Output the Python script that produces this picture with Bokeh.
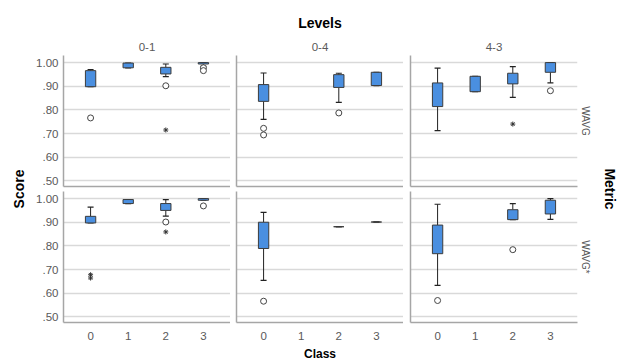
from math import pi
from bokeh.plotting import figure
from bokeh.layouts import row, column
from bokeh.models import (ColumnDataSource, FixedTicker, CustomJSTickFormatter, Range1d,
                          Title, Label, Whisker, TeeHead)
from bokeh.embed import file_html
from bokeh.resources import INLINE

# ---------------- data ----------------
levels = ["0-1", "0-4", "4-3"]
metrics = ["WAVG", "WAVG*"]
class_ticks = [0, 1, 2, 3]
score_ticks = [0.5, 0.6, 0.7, 0.8, 0.9, 1.0]

box_metric = ["WAVG", "WAVG", "WAVG", "WAVG", "WAVG", "WAVG", "WAVG", "WAVG", "WAVG", "WAVG", "WAVG",
              "WAVG*", "WAVG*", "WAVG*", "WAVG*", "WAVG*", "WAVG*", "WAVG*", "WAVG*", "WAVG*", "WAVG*"]
box_level = ["0-1", "0-1", "0-1", "0-1", "0-4", "0-4", "0-4", "4-3", "4-3", "4-3", "4-3",
             "0-1", "0-1", "0-1", "0-1", "0-4", "0-4", "0-4", "4-3", "4-3", "4-3"]
box_class = [0, 1, 2, 3, 0, 2, 3, 0, 1, 2, 3,
             0, 1, 2, 3, 0, 2, 3, 0, 2, 3]
whisker_low = [0.898, 0.978, 0.941, 0.984, 0.760, 0.832, 0.903, 0.712, 0.877, 0.853, 0.914,
               0.897, 0.979, 0.926, 0.993, 0.654, 0.881, 0.901, 0.633, 0.911, 0.912]
q1 = [0.898, 0.978, 0.952, 0.994, 0.836, 0.895, 0.903, 0.814, 0.877, 0.910, 0.959,
      0.897, 0.979, 0.950, 0.993, 0.789, 0.881, 0.901, 0.767, 0.911, 0.935]
median = [0.939, 0.987, 0.970, 0.997, 0.881, 0.927, 0.931, 0.889, 0.910, 0.948, 0.984,
          0.912, 0.987, 0.970, 0.997, 0.864, 0.881, 0.901, 0.833, 0.935, 0.959]
q3 = [0.966, 0.998, 0.980, 1.000, 0.907, 0.949, 0.959, 0.914, 0.942, 0.955, 1.000,
      0.925, 0.996, 0.979, 1.000, 0.900, 0.881, 0.901, 0.888, 0.953, 0.993]
whisker_high = [0.970, 0.998, 0.994, 1.000, 0.956, 0.955, 0.959, 0.977, 0.942, 0.983, 1.000,
                0.964, 0.996, 0.996, 1.000, 0.942, 0.881, 0.901, 0.976, 0.979, 1.000]

out_metric = ["WAVG", "WAVG", "WAVG", "WAVG", "WAVG", "WAVG", "WAVG", "WAVG", "WAVG", "WAVG",
              "WAVG*", "WAVG*", "WAVG*", "WAVG*", "WAVG*", "WAVG*", "WAVG*", "WAVG*"]
out_level = ["0-1", "0-1", "0-1", "0-1", "0-1", "0-4", "0-4", "0-4", "4-3", "4-3",
             "0-1", "0-1", "0-1", "0-1", "0-1", "0-4", "4-3", "4-3"]
out_class = [0, 2, 2, 3, 3, 0, 0, 2, 2, 3,
             0, 0, 2, 2, 3, 0, 0, 2]
out_value = [0.766, 0.902, 0.715, 0.978, 0.966, 0.722, 0.694, 0.787, 0.740, 0.881,
             0.678, 0.664, 0.901, 0.859, 0.969, 0.566, 0.569, 0.784]
out_kind = ["circle", "circle", "star", "circle", "circle", "circle", "circle", "circle", "star", "circle",
            "star", "star", "circle", "star", "circle", "circle", "circle", "circle"]

# ---------------- style ----------------
FONT = "Liberation Sans"
BLUE = "#4a8fe0"
GRID = "#d9d9d9"
AXIS = "#a6a6a6"
TXT = "#595959"
FRAME_W, FRAME_H = 167, 131
LEFT = [33, 6, 7]
RIGHT = [0, 0, 16]
TOP_BORDER = 55
BOTTOM_BORDER = 40
TOTAL_H = TOP_BORDER + FRAME_H + 5 + FRAME_H + BOTTOM_BORDER

fmt = CustomJSTickFormatter(code="""
    const s = tick.toFixed(2);
    return tick < 1 ? s.substring(1) : s;
""")


def make_panel(mi, li):
    metric, level = metrics[mi], levels[li]
    top_row = mi == 0
    idx = [i for i in range(len(box_class)) if box_metric[i] == metric and box_level[i] == level]
    src = ColumnDataSource(dict(
        x=[box_class[i] for i in idx],
        lo=[whisker_low[i] for i in idx],
        q1=[q1[i] for i in idx],
        med=[median[i] for i in idx],
        q3=[q3[i] for i in idx],
        hi=[whisker_high[i] for i in idx],
    ))
    oidx = [i for i in range(len(out_value)) if out_metric[i] == metric and out_level[i] == level]
    circ = ColumnDataSource(dict(x=[out_class[i] for i in oidx if out_kind[i] == "circle"],
                                 y=[out_value[i] for i in oidx if out_kind[i] == "circle"]))
    star = ColumnDataSource(dict(x=[out_class[i] for i in oidx if out_kind[i] == "star"],
                                 y=[out_value[i] for i in oidx if out_kind[i] == "star"]))

    p = figure(frame_width=FRAME_W, frame_height=FRAME_H,
               x_range=Range1d(-0.72, 3.72), y_range=Range1d(0.476, 1.030),
               output_backend="svg", toolbar_location=None, title=None,
               min_border_left=LEFT[li], min_border_right=RIGHT[li],
               min_border_top=TOP_BORDER if top_row else 0,
               min_border_bottom=5 if top_row else BOTTOM_BORDER)
    p.outline_line_color = None
    p.background_fill_color = "white"
    p.border_fill_color = "white"

    p.xgrid.visible = False
    p.ygrid.ticker = FixedTicker(ticks=score_ticks)
    p.ygrid.grid_line_color = GRID
    p.ygrid.grid_line_width = 1.5

    for ax in (p.xaxis[0], p.yaxis[0]):
        ax.axis_line_color = AXIS
        ax.axis_line_width = 1.5
        ax.major_tick_line_color = None
        ax.minor_tick_line_color = None
        ax.major_tick_out = 0
        ax.major_tick_in = 0
        ax.major_label_text_font = FONT
        ax.major_label_text_font_size = "11.5px"
        ax.major_label_text_color = TXT

    if li == 0:
        p.yaxis.ticker = FixedTicker(ticks=score_ticks)
        p.yaxis.formatter = fmt
        p.yaxis.major_label_standoff = 5
    else:
        p.yaxis.ticker = FixedTicker(ticks=[])
        p.yaxis.major_label_standoff = 0

    if top_row:
        p.xaxis.ticker = FixedTicker(ticks=[])
        p.xaxis.major_label_standoff = 0
    else:
        p.xaxis.ticker = FixedTicker(ticks=class_ticks)
        p.xaxis.major_label_standoff = 9
        if li == 1:
            p.xaxis.axis_label = "Class"
            p.xaxis.axis_label_standoff = 4
            p.xaxis.axis_label_text_font = FONT
            p.xaxis.axis_label_text_font_size = "12px"
            p.xaxis.axis_label_text_font_style = "bold"
            p.xaxis.axis_label_text_color = "black"

    # whiskers
    up = Whisker(base="x", lower="q3", upper="hi", source=src, dimension="height",
                 line_color="#222222", line_width=1,
                 upper_head=TeeHead(size=6, line_color="#222222", line_width=1.2), lower_head=None)
    dn = Whisker(base="x", lower="lo", upper="q1", source=src, dimension="height",
                 line_color="#222222", line_width=1,
                 lower_head=TeeHead(size=6, line_color="#222222", line_width=1.2), upper_head=None)
    p.add_layout(up)
    p.add_layout(dn)
    # boxes
    p.vbar(x="x", width=0.275, top="q3", bottom="q1", source=src,
           fill_color=BLUE, line_color="#3c3c3c", line_width=1)
    # medians
    p.rect(x="x", y="med", width=0.275, height=0, source=src,
           fill_color=None, line_color="black", line_width=2)
    # outliers
    p.scatter(x="x", y="y", source=circ, marker="circle", size=6,
              fill_color="white", line_color="#444444", line_width=1)
    p.scatter(x="x", y="y", source=star, marker="asterisk", size=5,
              line_color="#333333", line_width=1)

    if top_row:
        # first item in 'above' sits closest to the frame
        p.add_layout(Title(text=level, align="center", text_font=FONT, text_font_size="11.5px",
                           text_font_style="normal", text_color=TXT, standoff=9), "above")
        if li == 1:
            p.add_layout(Title(text="Levels", align="center", text_font=FONT, text_font_size="14px",
                               text_font_style="bold", text_color="black", standoff=11), "above")
    if li == 2:
        p.add_layout(Title(text=metric, align="center", text_font=FONT, text_font_size="10px",
                           text_font_style="normal", text_color=TXT, standoff=5), "right")
    return p


panels = [[make_panel(mi, li) for li in range(3)] for mi in range(2)]

FRAMES_CENTER_Y = TOP_BORDER + (2 * FRAME_H + 5) / 2


def side_fig(w, text, x, angle):
    f = figure(width=w, height=TOTAL_H, x_range=Range1d(0, 1), y_range=Range1d(0, 1),
               output_backend="svg", toolbar_location=None, title=None,
               min_border=0, x_axis_location=None, y_axis_location=None)
    f.outline_line_color = None
    f.xgrid.visible = False
    f.ygrid.visible = False
    f.add_layout(Label(x=x, y=TOTAL_H - FRAMES_CENTER_Y, x_units="screen", y_units="screen", text=text,
                       angle=angle, text_align="center", text_baseline="middle",
                       text_font=FONT, text_font_size="14px", text_font_style="bold",
                       text_color="black"))
    return f


score_fig = side_fig(30, "Score", 18, pi / 2)
metric_fig = side_fig(27, "Metric", 14, -pi / 2)

grid = column(row(*panels[0]), row(*panels[1]))
layout = row(score_fig, grid, metric_fig)

open("out.html", "w").write(file_html(layout, INLINE, title="Levels"))
